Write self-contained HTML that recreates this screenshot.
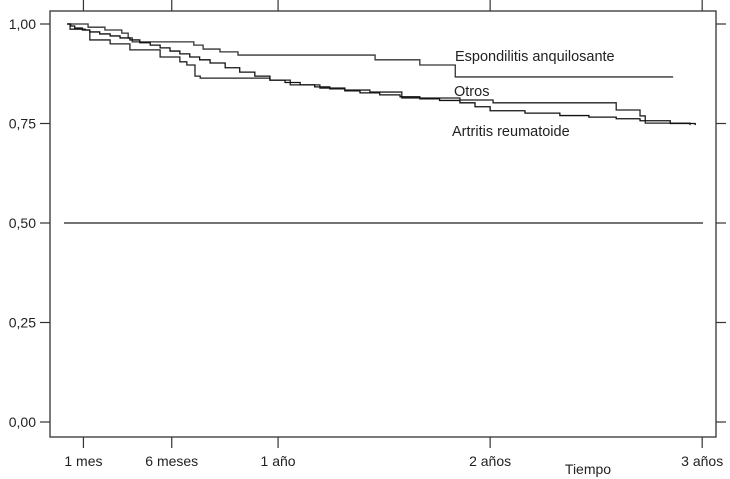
<!DOCTYPE html>
<html><head><meta charset="utf-8"><style>
html,body{margin:0;padding:0;background:#fff;}
svg{display:block;font-family:"Liberation Sans",sans-serif;}
</style></head><body>
<svg id="chart" width="730" height="479" viewBox="0 0 730 479"></svg>
<script>
const xTickDays = [30, 182, 365, 730, 1095];
const xTickLabels = ["1 mes", "6 meses", "1 año", "2 años", "3 años"];
const yTickValues = [0, 0.25, 0.5, 0.75, 1];
const yTickLabels = ["0,00", "0,25", "0,50", "0,75", "1,00"];
const refLineValue = 0.5;
const espDays = [2, 38, 67, 96, 107, 114, 220, 236, 265, 296, 532, 609, 670, 1045];
const espSurv = [1.0, 0.992, 0.985, 0.977, 0.965, 0.955, 0.947, 0.937, 0.93, 0.922, 0.91, 0.897, 0.867, 0.867];
const otrDays = [2, 7, 33, 41, 76, 110, 162, 196, 208, 222, 231, 299, 351, 386, 437, 480, 523, 578, 678, 735, 947, 988, 997, 1074];
const otrSurv = [1.0, 0.987, 0.985, 0.96, 0.95, 0.935, 0.917, 0.905, 0.897, 0.869, 0.864, 0.864, 0.859, 0.847, 0.839, 0.834, 0.829, 0.814, 0.809, 0.802, 0.784, 0.769, 0.751, 0.746];
const artDays = [2, 8, 15, 28, 41, 58, 76, 93, 110, 127, 145, 162, 179, 196, 213, 230, 248, 274, 299, 325, 351, 377, 403, 428, 454, 480, 506, 540, 575, 609, 643, 678, 704, 730, 790, 850, 900, 947, 988, 1040, 1083];
const artSurv = [1.0, 0.995, 0.99, 0.985, 0.98, 0.975, 0.97, 0.965, 0.96, 0.953, 0.947, 0.94, 0.932, 0.925, 0.917, 0.91, 0.902, 0.89, 0.879, 0.869, 0.859, 0.853, 0.847, 0.842, 0.837, 0.832, 0.827, 0.822, 0.817, 0.812, 0.808, 0.802, 0.792, 0.782, 0.776, 0.77, 0.766, 0.762, 0.757, 0.75, 0.746];

const NS = "http://www.w3.org/2000/svg";
const svg = document.getElementById("chart");
const L = 50, R = 716, T = 11, B = 437;
const xs = d => 66 + 0.581 * d;
const ys = v => 422 - 398 * v;
function mk(tag, attrs, parent) {
  const e = document.createElementNS(NS, tag);
  for (const k in attrs) e.setAttribute(k, attrs[k]);
  (parent || svg).appendChild(e);
  return e;
}
let box = mk("rect", {x: L, y: T, width: R - L, height: B - T, fill: "none", stroke: "#333", "stroke-width": 1.3});



xTickDays.forEach((d, i) => {
  const x = xs(d);
  let t1 = mk("line", {x1: x, x2: x, y1: B, y2: B + 11, stroke: "#333", "stroke-width": 1.2});
  
  
  let t2 = mk("line", {x1: x, x2: x, y1: 0, y2: T, stroke: "#333", "stroke-width": 1.2});
  
  
  let lb = mk("text", {x: x, y: 466, "text-anchor": "middle", "font-size": 14, fill: "#222"});
  lb.textContent = xTickLabels[i];
  
  
});
yTickValues.forEach((v, i) => {
  const y = ys(v);
  let t1 = mk("line", {x1: 40, x2: L, y1: y, y2: y, stroke: "#333", "stroke-width": 1.2});
  
  
  let t2 = mk("line", {x1: R, x2: R + 10, y1: y, y2: y, stroke: "#333", "stroke-width": 1.2});
  
  
  let lb = mk("text", {x: 36, y: y + 5, "text-anchor": "end", "font-size": 14, fill: "#222"});
  lb.textContent = yTickLabels[i];
  
  
});
let ref = mk("line", {x1: 64, x2: 703, y1: ys(refLineValue), y2: ys(refLineValue), stroke: "#222", "stroke-width": 1.3});



function stepPath(ds, ss) {
  let p = "M" + xs(ds[0]) + "," + ys(ss[0]);
  for (let i = 1; i < ds.length; i++) {
    p += " H" + xs(ds[i]) + " V" + ys(ss[i]);
  }
  return p;
}
let c1 = mk("path", {d: stepPath(espDays, espSurv), fill: "none", stroke: "#333", "stroke-width": 1.3});


let c2 = mk("path", {d: stepPath(otrDays, otrSurv), fill: "none", stroke: "#222", "stroke-width": 1.3});


let c3 = mk("path", {d: stepPath(artDays, artSurv), fill: "none", stroke: "#111", "stroke-width": 1.3});



const labels = [["Espondilitis anquilosante", 455, 61, "label-espondilitis"], ["Otros", 454, 96, "label-otros"], ["Artritis reumatoide", 452, 136, "label-artritis"]];
labels.forEach(l => {
  let t = mk("text", {x: l[1], y: l[2], "font-size": 14.5, fill: "#222"});
  t.textContent = l[0];
  
  
});
let xt = mk("text", {x: 588, y: 474, "text-anchor": "middle", "font-size": 14, fill: "#222"});
xt.textContent = "Tiempo";


</script>
</body></html>
